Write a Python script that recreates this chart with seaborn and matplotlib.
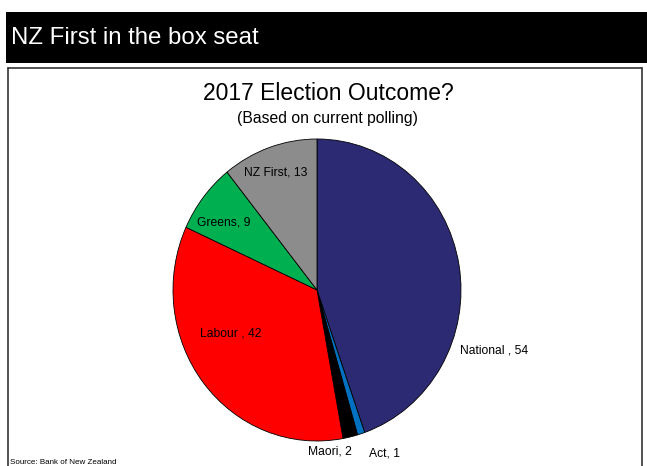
import matplotlib
matplotlib.use("Agg")
import matplotlib.pyplot as plt
import seaborn as sns
from matplotlib.patches import Rectangle
from matplotlib.lines import Line2D

# ---- data ----
parties = ["National", "Act", "Maori", "Labour", "Greens", "NZ First"]
seats = [54, 1, 2, 42, 9, 13]
label_texts = ["National , 54", "Act, 1", "Maori, 2", "Labour , 42", "Greens, 9", "NZ First, 13"]
colors = ["#2B2A72", "#0070C0", "#000000", "#FF0000", "#00B050", "#8C8C8C"]

# label placement (axes data units, pie radius = 1), alignment
label_pos = {
    "National": (0.99, -0.40, "left"),
    "Act": (0.47, -1.08, "center"),
    "Maori": (0.09, -1.07, "center"),
    "Labour": (-0.60, -0.285, "center"),
    "Greens": (-0.65, 0.45, "center"),
    "NZ First": (-0.29, 0.775, "center"),
}

sns.set_theme(style="white")
plt.rcParams['font.family'] = ['Liberation Sans', 'DejaVu Sans']

W, H = 647, 466
fig = plt.figure(figsize=(W / 100, H / 100), dpi=100)
fig.patch.set_facecolor("white")


def fx(px):
    return px / W


def fy(py):
    return 1 - py / H


# header bar
fig.patches.append(Rectangle((fx(6), fy(62.7)), fx(646.5) - fx(6), fy(12.3) - fy(62.7),
                             transform=fig.transFigure, facecolor="black",
                             edgecolor="none", zorder=0))
fig.text(fx(11), fy(37.5), "NZ First in the box seat", color="white",
         fontsize=17.3, va="center", ha="left")

# chart frame (open at the bottom, cut by the image edge)
for xs, ys in [((8, 8), (470, 68)), ((8, 641.5), (68, 68)), ((641.5, 641.5), (68, 470))]:
    fig.add_artist(Line2D([fx(x) for x in xs], [fy(y) for y in ys],
                          transform=fig.transFigure, color="#333333", lw=1.2))

# titles
fig.text(fx(328), fy(94), "2017 Election Outcome?", fontsize=16.5,
         ha="center", va="center", color="black")
fig.text(fx(327), fy(118), "(Based on current polling)", fontsize=11.3,
         ha="center", va="center", color="black")

# source
fig.text(fx(10), fy(463), "Source: Bank of New Zealand", fontsize=5.8,
         ha="left", va="center", color="black")

# pie
ax = fig.add_axes([fx(173), fy(441), (461 - 173) / W, (441 - 139) / H])
wedges, _ = ax.pie(seats, colors=colors, startangle=90, counterclock=False,
                   wedgeprops=dict(edgecolor="black", linewidth=0.6))
ax.set_aspect("auto")
ax.set_xlim(-1, 1)
ax.set_ylim(-1, 1)
ax.axis("off")

for party, txt in zip(parties, label_texts):
    x, y, ha = label_pos[party]
    ax.text(x, y, txt, ha=ha, va="center", fontsize=8.7, color="black")

fig.savefig("out.png", dpi=100)
